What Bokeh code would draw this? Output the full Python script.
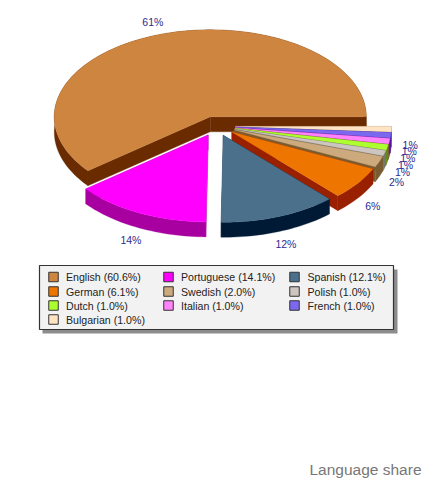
import numpy as np
from bokeh.plotting import figure
from bokeh.models import Range1d
from bokeh.core.properties import value
from bokeh.embed import file_html
from bokeh.resources import INLINE

languages = ["English", "Portuguese", "Spanish", "German", "Swedish", "Polish", "Dutch", "Italian", "French", "Bulgarian"]
shares = [60.6, 14.1, 12.1, 6.1, 2.0, 1.0, 1.0, 1.0, 1.0, 1.0]
top_colors = ["#CD853F", "#FF00FF", "#4A708B", "#EE7600", "#CDAA7D", "#CDC5BF", "#ADFF2F", "#FF83FA", "#7B68EE", "#FFE4C4"]
side_colors = ["#6B2B00", "#A800A0", "#001A35", "#992000", "#7A5C30", "#77756E", "#5F9000", "#A000A0", "#3020A0", "#A08860"]
title = "Language share"

CX, CY, RX, RY, DEPTH, EX, EY = 216.0, 125.6, 156.0, 87.0, 15.0, 19.0, 9.8
LABEL_KX, LABEL_KY = 1.12, 1.15
LABEL_COLOR = "#2B2B8F"

p = figure(width=432, height=480, x_range=Range1d(0, 432), y_range=Range1d(480, 0),
           output_backend="svg", toolbar_location=None, min_border=0, outline_line_color=None,
           background_fill_color="white", border_fill_color="white")
p.axis.visible = False
p.grid.visible = False

total = sum(shares)
edges = np.concatenate([[0.0], np.cumsum(shares)]) / total * 2 * np.pi
mids = (edges[:-1] + edges[1:]) / 2

def slice_outline(i):
    a0, a1 = edges[i], edges[i + 1]
    ax = CX + EX * np.cos(mids[i])
    ay = CY - EY * np.sin(mids[i])
    n = max(4, int((a1 - a0) / np.radians(1.5)))
    t = np.linspace(a0, a1, n)
    return ax, ay, ax + RX * np.cos(t), ay - RY * np.sin(t)

# back to front: English, then Bulgarian down to German, then Spanish, Portuguese
order = [0, 9, 8, 7, 6, 5, 4, 3, 2, 1]
for i in order:
    ax, ay, ax_, ay_ = slice_outline(i)
    # outer band and the two cut faces, as three solid polygons
    qx = [np.concatenate([ax_, ax_[::-1]]),
          [ax, ax_[0], ax_[0], ax],
          [ax, ax_[-1], ax_[-1], ax]]
    qy = [np.concatenate([ay_, ay_[::-1] + DEPTH]),
          [ay, ay_[0], ay_[0] + DEPTH, ay + DEPTH],
          [ay, ay_[-1], ay_[-1] + DEPTH, ay + DEPTH]]
    p.patches([list(q) for q in qx], [list(q) for q in qy],
              fill_color=side_colors[i], line_color=side_colors[i], line_width=0.3)
    p.patch(np.concatenate([[ax], ax_]), np.concatenate([[ay], ay_]),
            fill_color=top_colors[i], line_color=top_colors[i], line_width=0.3)

# percentage labels
lx, ly, lt = [], [], []
for i in range(len(shares)):
    ax, ay, _, _ = slice_outline(i)
    s = np.sin(mids[i])
    lx.append(ax + RX * LABEL_KX * np.cos(mids[i]))
    ly.append(ay - RY * LABEL_KY * s + (DEPTH if s < 0 else 0))
    lt.append(f"{shares[i] / total * 100:.0f}%")
p.text(lx, ly, text=lt, text_font=value("Liberation Sans"), text_font_size="10.5px",
       text_color=LABEL_COLOR, text_align="center", text_baseline="middle")

# legend
p.quad(left=[42], right=[397], top=[269], bottom=[333], fill_color="#8C8C8C", line_color=None)
p.quad(left=[39], right=[393], top=[265], bottom=[329], fill_color="#F2F2F2", line_color="#333333", line_width=1.2)
col_sw = [53, 168, 294]
col_tx = [65.5, 180.5, 307]
row_y = [276.5, 291, 305, 319]
sx, sy, tx, ty, tt, sc = [], [], [], [], [], []
for i, name in enumerate(languages):
    r, c = i // 3, i % 3
    sx.append(col_sw[c]); sy.append(row_y[r]); sc.append(top_colors[i])
    tx.append(col_tx[c]); ty.append(row_y[r])
    tt.append(f"{name} ({shares[i]:.1f}%)")
p.rect(sx, sy, width=9.5, height=9.5, fill_color=sc, line_color="#333333", line_width=1)
p.text(tx, ty, text=tt, text_font=value("Liberation Sans"), text_font_size="10.6px",
       text_color="#222222", text_align="left", text_baseline="middle")

p.text([421], [469], text=[title], text_font=value("Liberation Sans"), text_font_size="15.5px",
       text_color="#777777", text_align="right", text_baseline="middle")

open("out.html", "w").write(file_html(p, INLINE))
